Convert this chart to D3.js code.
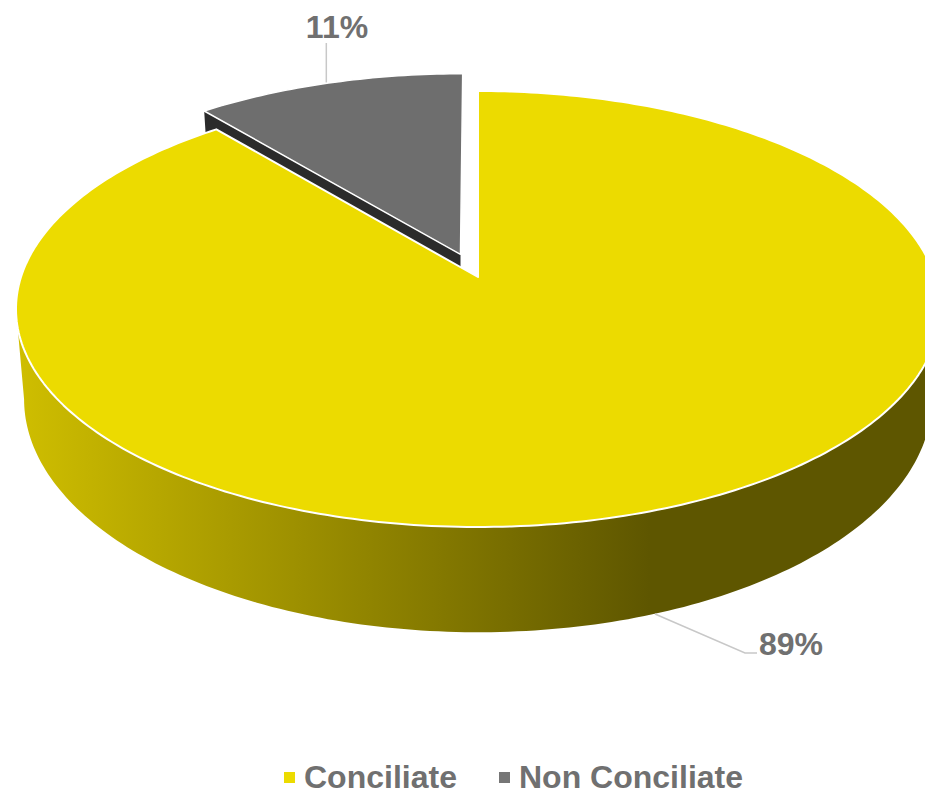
<!DOCTYPE html>
<html>
  <head>
    <meta charset="utf-8">
    <style>
      html, body { margin: 0; padding: 0; background: #fff; overflow: hidden; }
      text { font-family: "Liberation Sans", Arial, sans-serif; font-weight: bold; fill: #707070; font-size: 32px; }
    </style>
  </head>
  <body>
    <div id="chart"></div>
    <script src="https://d3js.org/d3.v7.min.js"></script>
    <script>
      const categories = ["Conciliate", "Non Conciliate"];
      const values = [89, 11];
      const labels = ["89%", "11%"];
      const explode = [0, 0.115];
      const colors = ["#ecdb00", "#6e6e6e"];
      const wallColors = [null, "#2b2b2b"];

      const width = 925;
      const height = 791;

      const svg = d3.select("#chart")
        .append("svg")
        .attr("width", width)
        .attr("height", height)
        .style("display", "block");

      // the pie is tilted, so circle coords go through a small perspective
      const k = 0.1468;
      const topPlane = { x: 478, y: 277, a: 457, b: 213.3 };
      const bottomPlane = { x: 478, y: 365, a: 449, b: 228 };

      function project(plane, u, v) {
        const d = 1 - k * v;
        return [plane.x + plane.a * u / d, plane.y + plane.b * v / d];
      }

      function rim(plane, angle, off) {
        return project(plane, Math.sin(angle) + off[0], -Math.cos(angle) + off[1]);
      }

      const line = d3.line();
      const arcs = d3.pie().sort(null).value(d => d)(values);

      const offsets = arcs.map((d, i) => {
        const mid = (d.startAngle + d.endAngle) / 2;
        return [Math.sin(mid) * explode[i], -Math.cos(mid) * explode[i]];
      });

      function sweep(a0, a1) {
        const n = Math.ceil(Math.abs(a1 - a0) * 60);
        return d3.range(n + 1).map(i => a0 + (a1 - a0) * i / n);
      }

      const defs = svg.append("defs");
      const grad = defs.append("linearGradient")
        .attr("id", "wall")
        .attr("gradientUnits", "userSpaceOnUse")
        .attr("x1", 18).attr("x2", 650)
        .attr("y1", 0).attr("y2", 0);
      grad.append("stop").attr("offset", 0).attr("stop-color", "#cfbe00");
      grad.append("stop").attr("offset", 1).attr("stop-color", "#5e5600");

      // grey slice wall, most of it ends up behind the yellow top
      const g1 = arcs[1], off1 = offsets[1];
      const apexTop = project(topPlane, off1[0], off1[1]);
      const apexBottom = project(bottomPlane, off1[0], off1[1]);
      svg.append("path")
        .attr("d", line([
          rim(topPlane, g1.startAngle, off1),
          rim(bottomPlane, g1.startAngle, off1),
          apexBottom,
          apexTop
        ]) + "Z")
        .attr("fill", wallColors[1]);

      // grey top
      svg.append("path")
        .attr("d", line([apexTop].concat(sweep(g1.startAngle, g1.endAngle).map(a => rim(topPlane, a, off1)))) + "Z")
        .attr("fill", colors[1])
        .attr("stroke", "#fff")
        .attr("stroke-width", 1.5)
        .attr("stroke-linejoin", "round");

      // yellow wall, from silhouette to silhouette round the front
      const left = 2 * Math.PI - Math.acos(-k);
      const right = Math.acos(-k);
      const wallTop = sweep(right, left).map(a => rim(topPlane, a, [0, 0]));
      const wallBottom = sweep(left, right).map(a => rim(bottomPlane, a, [0, 0]));
      svg.append("path")
        .attr("d", line(wallTop.concat(wallBottom)) + "Z")
        .attr("fill", "url(#wall)");

      // yellow top
      const g0 = arcs[0];
      svg.append("path")
        .attr("d", line([project(topPlane, 0, 0)].concat(sweep(g0.startAngle, g0.endAngle).map(a => rim(topPlane, a, [0, 0])))) + "Z")
        .attr("fill", colors[0])
        .attr("stroke", "#fff")
        .attr("stroke-width", 2)
        .attr("stroke-linejoin", "round");

      // leader lines and data labels
      const leaderColor = "#c8c8c8";
      const at11 = rim(topPlane, 5.932, off1);
      svg.append("path")
        .attr("d", line([[at11[0], at11[1] - 1], [at11[0], 43]]))
        .attr("fill", "none").attr("stroke", leaderColor).attr("stroke-width", 1.5);
      svg.append("path")
        .attr("d", line([[655, 614], [745, 653], [757, 653]]))
        .attr("fill", "none").attr("stroke", leaderColor).attr("stroke-width", 1.5);

      svg.append("text").attr("x", 337).attr("y", 38).attr("text-anchor", "middle").text(labels[1]);
      svg.append("text").attr("x", 759).attr("y", 655).text(labels[0]);

      // legend
      const legendX = [304, 519];
      categories.forEach((c, i) => {
        svg.append("rect")
          .attr("x", legendX[i] - 20).attr("y", 772)
          .attr("width", 11).attr("height", 11)
          .attr("fill", i === 0 ? colors[0] : "#767676");
        svg.append("text").attr("x", legendX[i]).attr("y", 788).text(c);
      });
    </script>
  </body>
</html>
